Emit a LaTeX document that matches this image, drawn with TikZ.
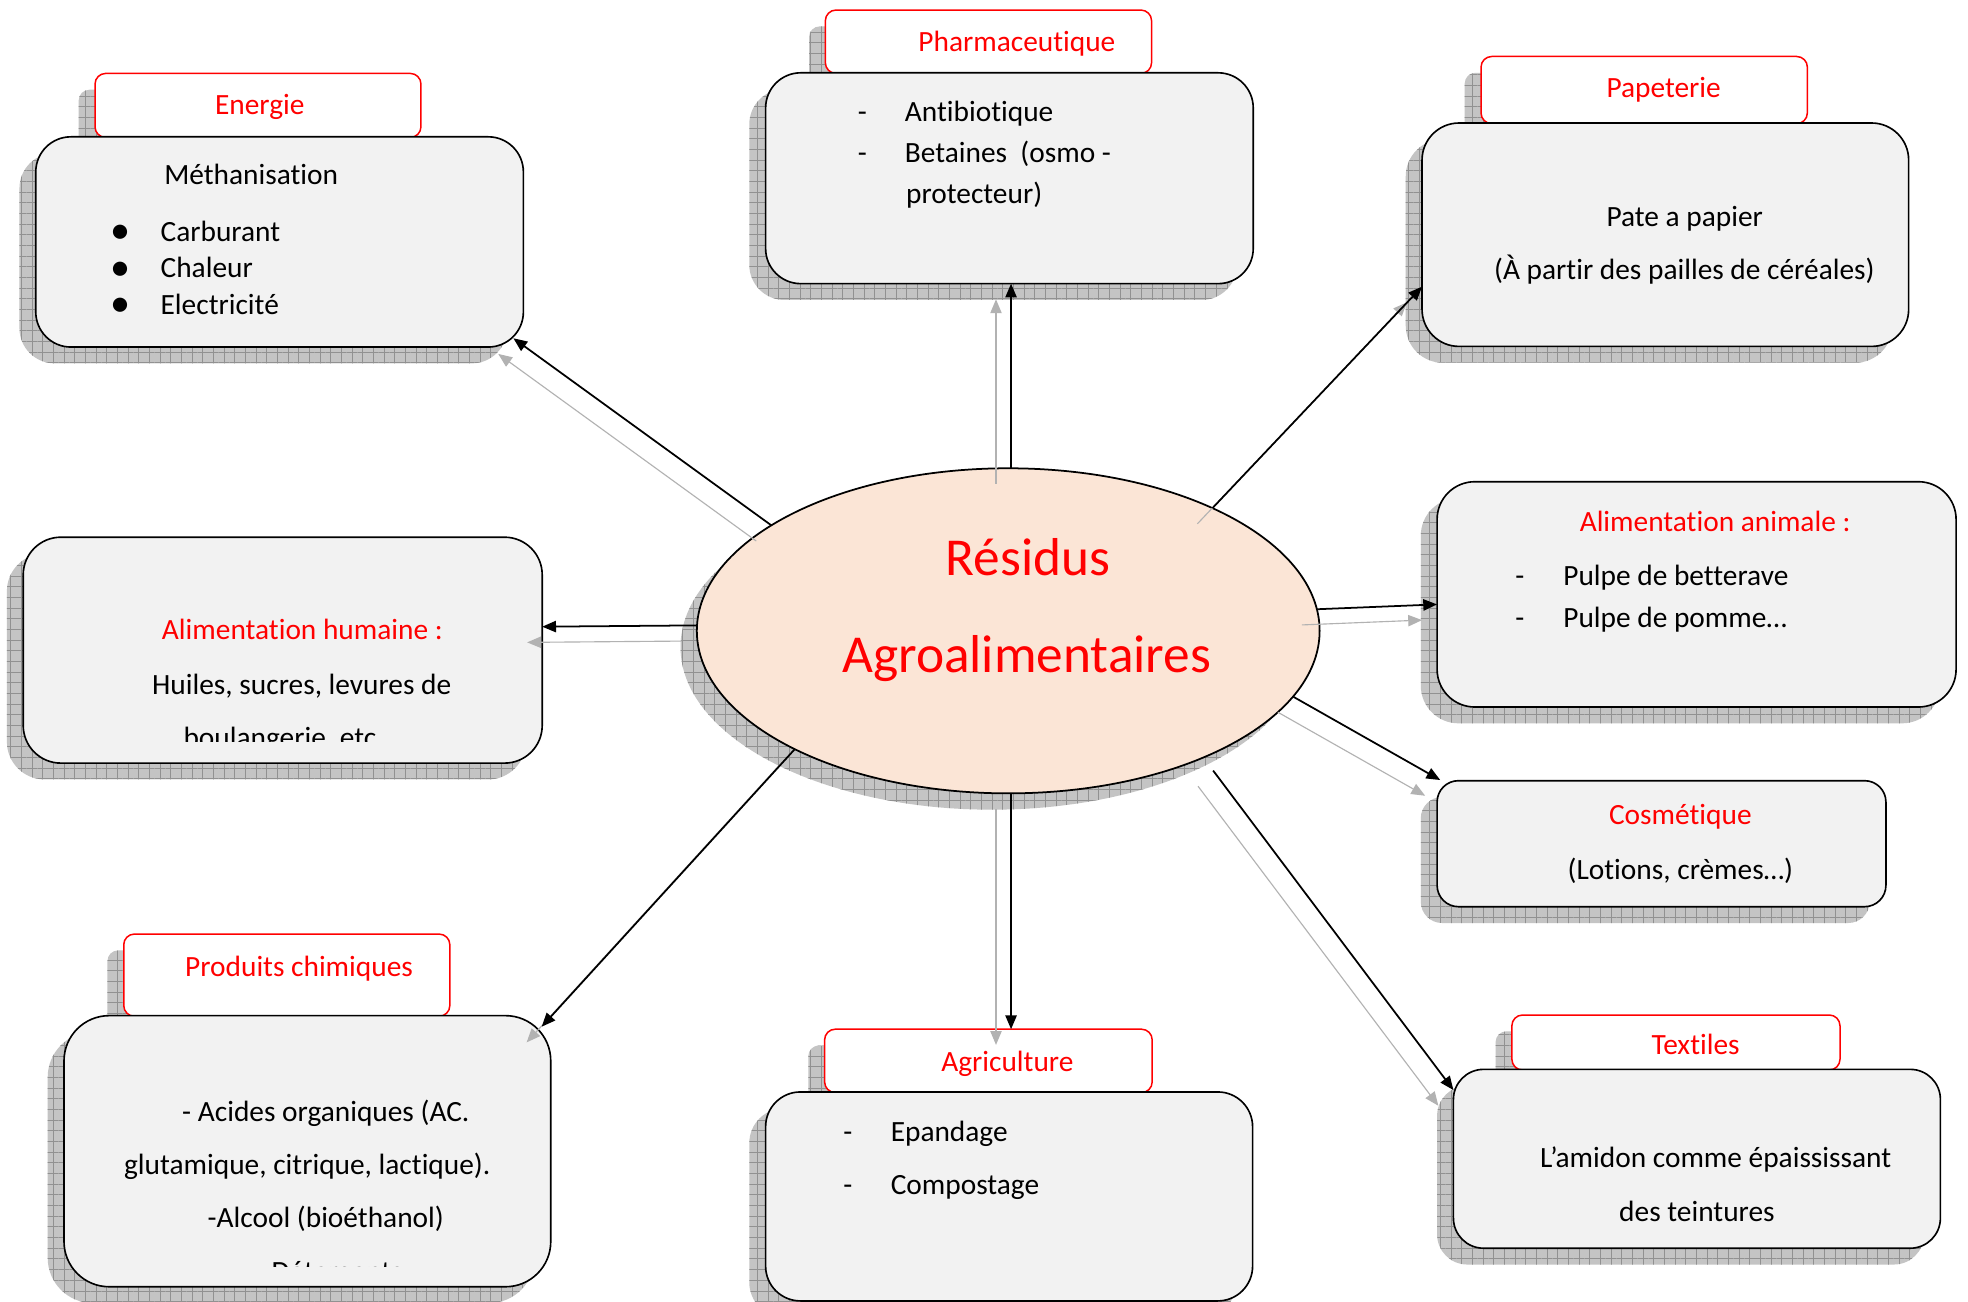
\documentclass[tikz,border=0pt]{standalone}
\usepackage{fontspec}
\setmainfont{Carlito}[Ligatures=NoCommon]
\usetikzlibrary{shapes.geometric,shadows,patterns.meta,arrows.meta}
\definecolor{rred}{RGB}{255,0,0}
\definecolor{boxfill}{RGB}{242,242,242}
\definecolor{peach}{RGB}{251,229,214}
\definecolor{shgray}{RGB}{196,196,196}
\definecolor{shline}{RGB}{145,145,145}
\newcommand\bodyfs{\fontsize{23.4pt}{28pt}\selectfont}
\newcommand\titlefs{\fontsize{42.5pt}{50pt}\selectfont}
\tikzset{
  shad/.style={
    general shadow={fill=shgray, shadow xshift=-13pt, shadow yshift=-13pt},
    general shadow={pattern={Hatch[angle=0,distance=8.5pt,line width=0.6pt]}, pattern color=shline, shadow xshift=-13pt, shadow yshift=-13pt}},
  mainbox/.style={shad, draw=black, line width=1.3pt, fill=boxfill, inner sep=0pt, outer sep=0pt},
  labelbox/.style={shad, draw=rred, line width=1.2pt, fill=white, inner sep=0pt, outer sep=0pt, rounded corners=8.5pt},
  txt/.style={font=\bodyfs, text height=15pt, text depth=0pt, inner sep=0pt, outer sep=0pt},
  rtxt/.style={txt, text=rred},
  ttl/.style={font=\titlefs, text=rred, text height=27.4pt, text depth=0pt, inner sep=0pt},
  bul/.style={font=\fontsize{32pt}{32pt}\selectfont, inner sep=0pt},
  arr/.style={line width=1.4pt, draw=black, -{Triangle[length=11pt,width=9pt]}},
  garr/.style={line width=0.9pt, draw=gray!60, -{Triangle[length=11pt,width=9pt]}},
}
\newcommand\connectors[1]{%
  \draw[#1] (res.156) -- ([xshift=-8pt,yshift=7pt]energie.south east);
  \draw[#1] (res.89) -- (res.89 |- pharma.south);
  \draw[#1] (res.31.4) -- ([yshift=-41.4pt]papeterie.west);
  \draw[#1] (res.4.4) -- ([yshift=-8pt]animale.west);
  \draw[#1] (res.347.5) -- ([xshift=2.5pt,yshift=0.5pt]cosmetique.north west);
  \draw[#1, shorten <=13pt] (res.327.6) -- ([yshift=-16.5pt]textiles.north west);
  \draw[#1] (res.271) -- (res.271 |- agrilab.north);
  \draw[#1] (res.209.6) -- ([xshift=-7.2pt,yshift=-8.8pt]chem.north east);
  \draw[#1] (res.179.6) -- ([yshift=18.7pt]humaine.east);
}
\begin{document}
\begin{tikzpicture}[x=1pt,y=-1pt]
\useasboundingbox (0,0) rectangle (1568,1037);
\fill[white] (0,0) rectangle (1568,1037);

% Energie
\node[labelbox, minimum width=259.7pt, minimum height=51pt] (enlab) at (205.55,84) {};
\node[mainbox, rounded corners=28pt, minimum width=388.5pt, minimum height=167.5pt] (energie) at (222.75,192.75) {};
% Pharmaceutique
\node[labelbox, minimum width=259.9pt, minimum height=50.5pt] (phlab) at (787.55,33.25) {};
\node[mainbox, rounded corners=28pt, minimum width=388.5pt, minimum height=168pt] (pharma) at (804.25,142) {};
% Papeterie
\node[labelbox, minimum width=260pt, minimum height=53.5pt] (palab) at (1310,71.75) {};
\node[mainbox, rounded corners=29.5pt, minimum width=387.7pt, minimum height=178pt] (papeterie) at (1326.85,187) {};
% Alimentation animale
\node[mainbox, rounded corners=30pt, minimum width=413.5pt, minimum height=179.5pt] (animale) at (1351.75,473.55) {};
% Cosmetique
\node[mainbox, rounded corners=17pt, minimum width=357.6pt, minimum height=100.4pt] (cosmetique) at (1323.8,672.2) {};
% Textiles
\node[labelbox, minimum width=261.4pt, minimum height=43.8pt] (telab) at (1335.3,830.6) {};
\node[mainbox, rounded corners=24pt, minimum width=388pt, minimum height=142.5pt] (textiles) at (1352,923.25) {};
% Agriculture
\node[labelbox, minimum width=261pt, minimum height=50.5pt] (agrilab) at (787.5,845.25) {};
\node[mainbox, rounded corners=27.7pt, minimum width=388pt, minimum height=166.5pt] (agri) at (804,953.25) {};
% Produits chimiques
\node[labelbox, minimum width=259.8pt, minimum height=65.5pt] (chlab) at (228.5,776.95) {};
\node[mainbox, rounded corners=36pt, minimum width=387.8pt, minimum height=216pt] (chem) at (244.9,917.2) {};
% Alimentation humaine
\node[mainbox, rounded corners=30pt, minimum width=413.5pt, minimum height=180pt] (humaine) at (225.25,518) {};
% Central ellipse
\node[shape=ellipse, shad, draw=black, line width=1.4pt, fill=peach, minimum width=496.2pt, minimum height=259pt, inner sep=0pt, outer sep=0pt] (res) at (803.3,502.6) {};

% Texts
\node[ttl] (r1) at (819,444.8) {Résidus};
\node[ttl] (r2) at (818,521.9) {Agroalimentaires};

\node[rtxt] (enT) at (207,83.7) {Energie};
\node[txt, anchor=west] (en1) at (130.9,139.4) {Méthanisation};
\node[bul] (enb1) at (95.9,186.6) {•};
\node[bul] (enb2) at (95.9,215.8) {•};
\node[bul] (enb3) at (95.9,245) {•};
\node[txt, anchor=west] (en2) at (128,184.6) {Carburant};
\node[txt, anchor=west] (en3) at (128,213.8) {Chaleur};
\node[txt, anchor=west] (en4) at (128,243) {Electricité};

\node[rtxt] (phT) at (810.2,33.2) {Pharmaceutique};
\node[txt] (phd1) at (687,89) {-};
\node[txt, anchor=west] (ph1) at (721,89) {Antibiotique};
\node[txt] (phd2) at (687,122) {-};
\node[txt, anchor=west] (ph2) at (721,122) {Betaines\ \ (osmo -};
\node[txt, anchor=west] (ph3) at (722,155) {protecteur)};

\node[rtxt] (paT) at (1325.5,70.4) {Papeterie};
\node[txt] (pa1) at (1342.3,172.6) {Pate a papier};
\node[txt] (pa2) at (1342,215) {(À partir des pailles de céréales)};

\node[rtxt] (anT) at (1366.5,415.6) {Alimentation animale :};
\node[txt] (and1) at (1211,459) {-};
\node[txt, anchor=west] (an1) at (1245.6,459) {Pulpe de betterave};
\node[txt] (and2) at (1211,492.5) {-};
\node[txt, anchor=west] (an2) at (1245.6,492.5) {Pulpe de pomme…};

\node[rtxt] (coT) at (1338.8,649.4) {Cosmétique};
\node[txt] (co1) at (1338.8,693) {(Lotions, crèmes…)};

\node[rtxt] (teT) at (1351,833) {Textiles};
\node[txt] (te1) at (1367,923) {L’amidon comme épaississant};
\node[txt] (te2) at (1352,966) {des teintures};

\node[rtxt] (agT) at (802.6,845.9) {Agriculture};
\node[txt] (agd1) at (675.5,901.7) {-};
\node[txt, anchor=west] (ag1) at (709.7,901.7) {Epandage};
\node[txt] (agd2) at (675.5,944) {-};
\node[txt, anchor=west] (ag2) at (709.7,944) {Compostage};

\node[rtxt] (chT) at (238.3,770.2) {Produits chimiques};
\node[txt] (ch1) at (259.6,885.7) {- Acides organiques (AC.};
\node[txt] (ch2) at (244.8,928.2) {glutamique, citrique, lactique).};
\node[txt] (ch3) at (259.6,970.7) {-Alcool (bioéthanol)};
\begin{scope}
  \clip (51,809.2) rectangle (438.8,1009.2);
  \node[txt] (ch4) at (265,1013.2) {-Détergents};
\end{scope}

\node[rtxt] (huT) at (240.9,502) {Alimentation humaine :};
\node[txt] (hu1) at (240.4,545.8) {Huiles, sucres, levures de};
\begin{scope}
  \clip (18.5,428) rectangle (432,591);
  \node[txt] (hu2) at (223,588.3) {boulangerie, etc};
\end{scope}

% Connectors: grey shadow copies, then black arrows
\begin{scope}[transform canvas={xshift=-12pt,yshift=-12.5pt}]
  \connectors{garr}
\end{scope}
\connectors{arr}
\end{tikzpicture}
\end{document}
